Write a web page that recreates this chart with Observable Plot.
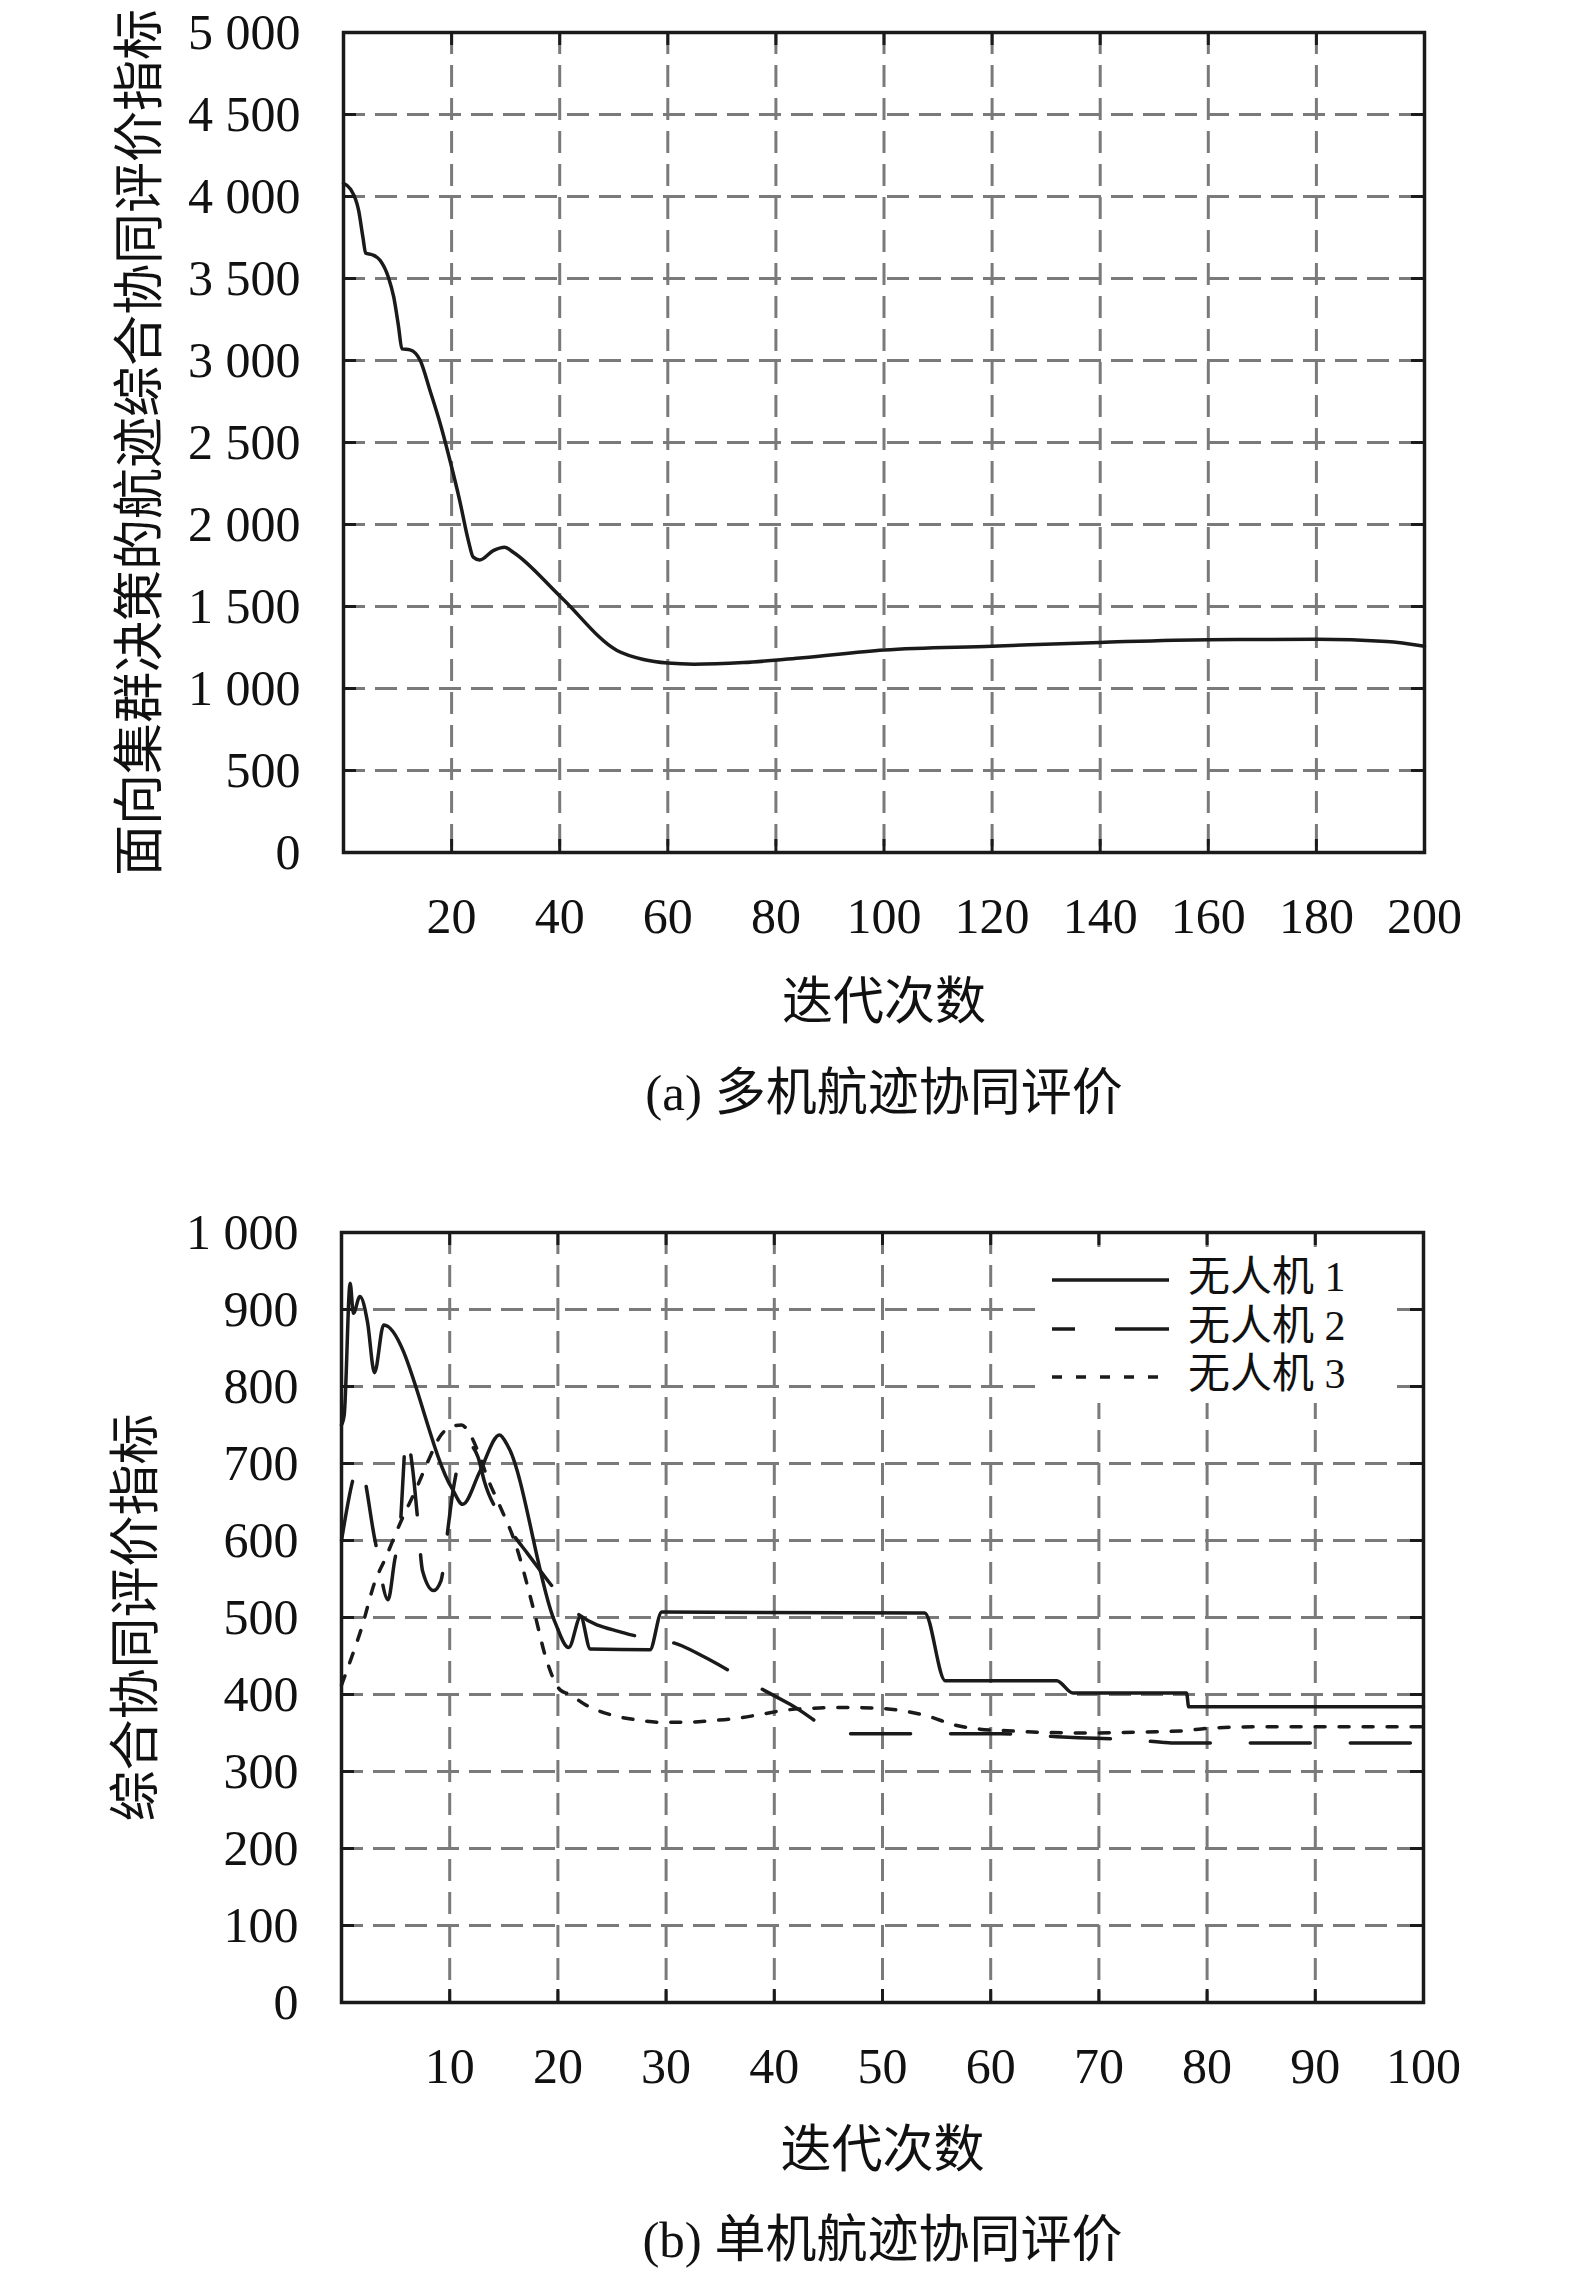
<!DOCTYPE html>
<html>
<head>
<meta charset="utf-8">
<script src="https://cdn.jsdelivr.net/npm/d3@7"></script>
<script src="https://cdn.jsdelivr.net/npm/@observablehq/plot@0.6"></script>
<style>
  html, body { margin: 0; padding: 0; background: #fff; }
  #root { position: relative; width: 1575px; height: 2274px; background: #fff; }
  #root svg { display: block; }
  #legend { position: absolute; left: 1043px; top: 1247px; width: 354px; height: 156px; background: #fff; }
</style>
</head>
<body>
<div id="root"></div>
<script>
// ---------- Data: (a) multi-UAV evaluation ----------
const iterA = [0, 1.3, 2.8, 3.6, 4.1, 5.3, 6.8, 8.3, 9.3, 10.2, 10.8, 12.3, 14.2, 16, 17.9, 19.7, 21.5, 23.1, 24, 25.2, 27.7, 29.8, 31.4, 40.3, 50.6, 55.5, 60, 64.8, 74, 85, 100, 120, 140, 160, 180, 193, 200];
const valueA = [4080, 4045, 3915, 3750, 3655, 3645, 3610, 3508, 3386, 3203, 3071, 3065, 3000, 2817, 2614, 2390, 2146, 1902, 1801, 1784, 1841, 1862, 1831, 1555, 1232, 1177, 1155, 1148, 1158, 1188, 1235, 1258, 1281, 1298, 1300, 1287, 1258];
const xTicksA = [20, 40, 60, 80, 100, 120, 140, 160, 180, 200];
const yTicksA = [0, 500, 1000, 1500, 2000, 2500, 3000, 3500, 4000, 4500, 5000];
const xLabelA = "迭代次数";
const yLabelA = "面向集群决策的航迹综合协同评价指标";
const captionA = "(a) 多机航迹协同评价";

// ---------- Data: (b) single-UAV evaluation ----------
const iterB1 = [0, 0.25, 0.8, 1.1, 1.7, 2.4, 3.05, 3.9, 10.2, 11.2, 12.8, 14.6, 15.4, 19.7, 21.0, 22.1, 23.0, 28.5, 29.6, 53.9, 55.8, 66.1, 67.6, 78.1, 78.3, 100];
const valueB1 = [750, 763, 934, 895, 917, 884, 818, 880, 668, 647, 690, 737, 722, 495, 461, 501, 459, 458, 507, 506, 418, 418, 402, 402, 384, 384];
const iterB2 = [0, 1.7, 3.1, 4.3, 4.9, 5.4, 6.0, 6.6, 7.0, 7.5, 8.5, 9.2, 9.7, 10.3, 10.8, 11.7, 12.6, 13.2, 15.2, 17.2, 22.1, 26.1, 31.5, 33.5, 38.2, 41.5, 46.2, 47.3, 61, 67.6, 70.4, 75.8, 76.7, 100];
const valueB2 = [600, 697, 600, 523, 573, 614, 735, 690, 633, 560, 535, 548, 600, 664, 700, 725, 709, 677, 622, 583, 502, 480, 463, 449, 412, 387, 350, 349, 349, 344, 343, 338, 337, 337];
const iterB3 = [0, 0.9, 1.85, 3.1, 4.0, 5.5, 6.9, 8, 9.2, 10.2, 11.1, 11.7, 12.6, 13.5, 14.6, 16, 17.8, 18.9, 20.2, 21.1, 22.5, 24.8, 27.3, 29.5, 31.9, 34.1, 36.5, 38.7, 41.2, 43.3, 45.5, 47.6, 49.9, 52.2, 54.4, 56.5, 59, 61.5, 64.3, 68.8, 73.4, 77.9, 80, 84.3, 100];
const valueB3 = [412, 447, 486, 547, 575, 625, 667, 703, 737, 748, 750, 742, 716, 681, 646, 599, 508, 447, 406, 400, 387, 374, 367, 364, 364, 366, 369, 374, 380, 382, 383, 383, 382, 378, 371, 361, 355, 353, 351, 350, 351, 353, 356, 358, 358];
const seriesNamesB = ["无人机 1", "无人机 2", "无人机 3"];
const xTicksB = [10, 20, 30, 40, 50, 60, 70, 80, 90, 100];
const yTicksB = [0, 100, 200, 300, 400, 500, 600, 700, 800, 900, 1000];
const xLabelB = "迭代次数";
const yLabelB = "综合协同评价指标";
const captionB = "(b) 单机航迹协同评价";

// ---------- Styles ----------
const FONT = '"Liberation Serif", "Noto Sans CJK SC", serif';
const GRID = "#7a7a7a";
const INK = "#1a1a1a";
const dash2 = "60,40";
const dash3 = "10,14";
const spaceFmt = d3.formatLocale({decimal: ".", thousands: " ", grouping: [3], currency: ["", ""]}).format(",");

function panel({W, H, mt, mb, ml, mr, xDomain, yDomain, xTicks, yTicks, xLabel, yLabel, caption, lines, titleDy, capDy, yLabelDx}) {
  const fw = W - ml - mr, fh = H - mt - mb;
  const tickLen = 13;
  return Plot.plot({
    width: W, height: H,
    marginTop: mt, marginBottom: mb, marginLeft: ml, marginRight: mr,
    x: {domain: xDomain, axis: null},
    y: {domain: yDomain, axis: null},
    style: {fontFamily: FONT, fontSize: "50px", background: "#fff", color: "#000", overflow: "visible"},
    marks: [
      Plot.gridX(xTicks, {stroke: GRID, strokeOpacity: 1, strokeWidth: 3, strokeDasharray: "22,11"}),
      Plot.gridY(yTicks, {stroke: GRID, strokeOpacity: 1, strokeWidth: 3, strokeDasharray: "22,10"}),
      Plot.tickX(xTicks, {x: d => d, insetTop: fh - tickLen, stroke: INK, strokeWidth: 3}),
      Plot.tickX(xTicks, {x: d => d, insetBottom: fh - tickLen, stroke: INK, strokeWidth: 3}),
      Plot.tickY(yTicks, {y: d => d, insetRight: fw - tickLen, stroke: INK, strokeWidth: 3}),
      Plot.tickY(yTicks, {y: d => d, insetLeft: fw - tickLen, stroke: INK, strokeWidth: 3}),
      ...lines,
      Plot.frame({stroke: INK, strokeWidth: 3.5}),
      Plot.axisX(xTicks, {tickSize: 0, tickPadding: 45, fontSize: 50, label: null, fill: "#111"}),
      Plot.axisY(yTicks, {tickSize: 0, tickPadding: 43, fontSize: 50, label: null, tickFormat: spaceFmt, fill: "#111"}),
      Plot.text([xLabel], {text: d => d, frameAnchor: "bottom", dy: titleDy, textAnchor: "middle", lineAnchor: "middle", fontSize: 51, fill: "#111"}),
      Plot.text([caption], {text: d => d, frameAnchor: "bottom", dy: capDy, textAnchor: "middle", lineAnchor: "middle", fontSize: 51, fill: "#111"}),
      Plot.text([yLabel], {text: d => d, frameAnchor: "left", dx: yLabelDx, rotate: -90, textAnchor: "middle", lineAnchor: "middle", fontSize: 51, fill: "#111"})
    ]
  });
}

const root = document.getElementById("root");

const plotA = panel({
  W: 1575, H: 1140, mt: 32, mb: 1140 - 852, ml: 343, mr: 1575 - 1424,
  xDomain: [0, 200], yDomain: [0, 5000], xTicks: xTicksA, yTicks: yTicksA,
  xLabel: xLabelA, yLabel: yLabelA, caption: captionA, titleDy: 150, capDy: 241, yLabelDx: -203,
  lines: [
    Plot.line(valueA, {x: iterA, y: valueA, curve: "monotone-x", stroke: INK, strokeWidth: 3.5})
  ]
});
root.appendChild(plotA);

const plotB = panel({
  W: 1575, H: 1134, mt: 1232 - 1140, mb: 2274 - 2002, ml: 341, mr: 1575 - 1423,
  xDomain: [0, 100], yDomain: [0, 1000], xTicks: xTicksB, yTicks: yTicksB,
  xLabel: xLabelB, yLabel: yLabelB, caption: captionB, titleDy: 148, capDy: 238, yLabelDx: -205,
  lines: [
    Plot.line(valueB3, {x: iterB3, y: valueB3, curve: "monotone-x", stroke: INK, strokeWidth: 3.5, strokeDasharray: dash3}),
    Plot.line(valueB2, {x: iterB2, y: valueB2, curve: "monotone-x", stroke: INK, strokeWidth: 3.5, strokeDasharray: dash2}),
    Plot.line(valueB1, {x: iterB1, y: valueB1, curve: "monotone-x", stroke: INK, strokeWidth: 3.5})
  ]
});
root.appendChild(plotB);

// ---------- Legend (b) ----------
const legend = document.createElement("div");
legend.id = "legend";
const dashes = [null, dash2, dash3];
const rowsY = [33, 82, 130];
let svg = '<svg width="354" height="156" xmlns="http://www.w3.org/2000/svg">';
seriesNamesB.forEach((name, i) => {
  svg += `<line x1="9" x2="126" y1="${rowsY[i]}" y2="${rowsY[i]}" stroke="${INK}" stroke-width="3.5"` +
         (dashes[i] ? ` stroke-dasharray="${dashes[i]}"` + (i === 1 ? ' stroke-dashoffset="37"' : '') : '') + '/>';
  svg += `<text x="145" y="${rowsY[i] - 3}" dominant-baseline="central" font-family='${FONT}' font-size="42" fill="#111">${name}</text>`;
});
svg += '</svg>';
legend.innerHTML = svg;
root.appendChild(legend);
</script>
</body>
</html>
